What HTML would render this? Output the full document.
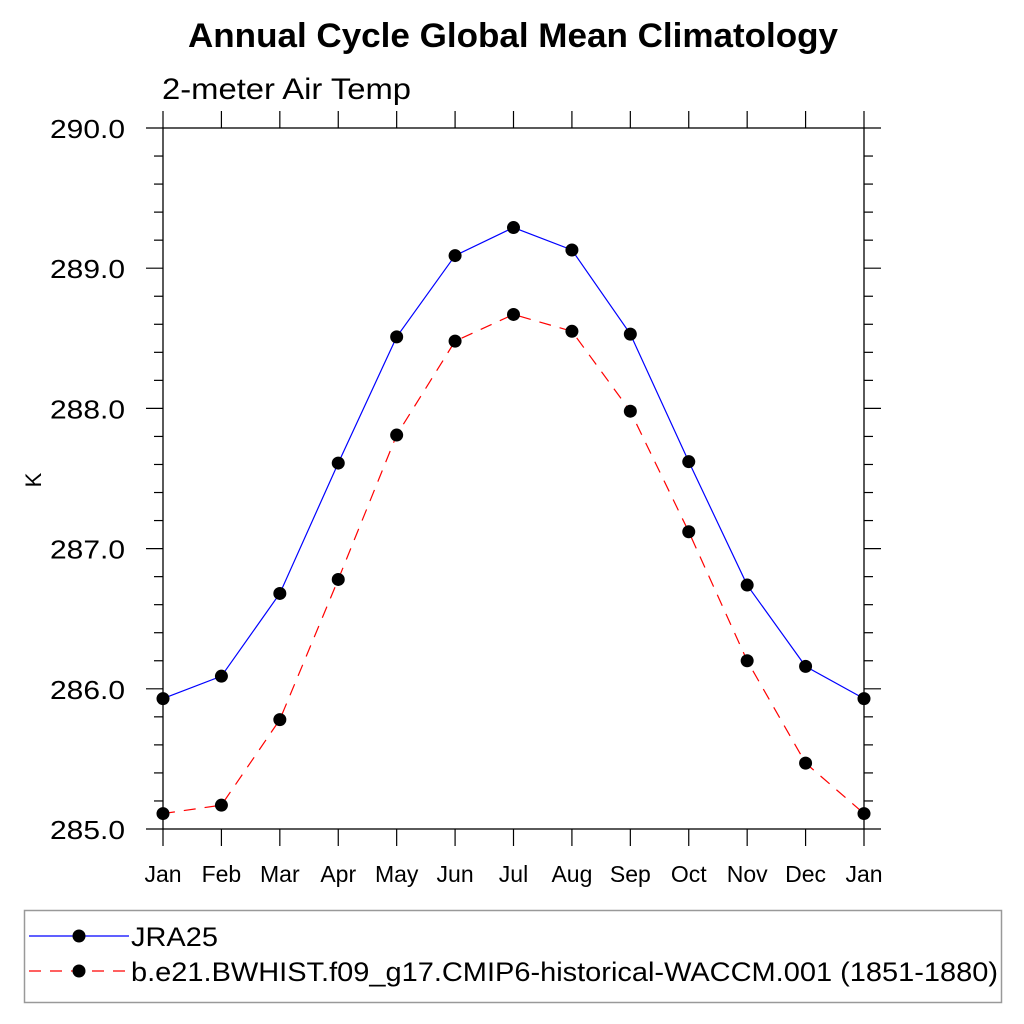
<!DOCTYPE html>
<html><head><meta charset="utf-8"><style>body{margin:0;background:#fff}svg{display:block;font-family:"Liberation Sans",sans-serif}</style></head>
<body>
<svg id="c" width="1024" height="1024">
<text x="188" y="47" font-size="34" font-weight="bold" textLength="650" lengthAdjust="spacingAndGlyphs">Annual Cycle Global Mean Climatology</text>
<text x="162" y="99" font-size="30" textLength="249" lengthAdjust="spacingAndGlyphs">2-meter Air Temp</text>
<text transform="translate(41,480) rotate(-90)" text-anchor="middle" font-size="22">K</text>
<g id="axes"></g>
<g id="series"></g>
<rect x="24.5" y="910.5" width="977" height="92" fill="none" stroke="#999" stroke-width="1.5"/>
<g>
<line x1="29" y1="936" x2="129" y2="936" stroke="#00f" stroke-width="1.2"/>
<circle cx="79" cy="936" r="6.5"/>
<text x="131" y="946" font-size="27" textLength="87" lengthAdjust="spacingAndGlyphs">JRA25</text></g>
<g>
<line x1="29" y1="971" x2="129" y2="971" stroke="#f00" stroke-width="1.2" stroke-dasharray="12,9"/>
<circle cx="79" cy="971" r="6.5"/>
<text x="131" y="981" font-size="27" textLength="867" lengthAdjust="spacingAndGlyphs">b.e21.BWHIST.f09_g17.CMIP6-historical-WACCM.001 (1851-1880)</text></g>
</svg>
<script>
const months=["Jan","Feb","Mar","Apr","May","Jun","Jul","Aug","Sep","Oct","Nov","Dec","Jan"];
const jra=[285.93,286.09,286.68,287.61,288.51,289.09,289.29,289.13,288.53,287.62,286.74,286.16,285.93];
const waccm=[285.11,285.17,285.78,286.78,287.81,288.48,288.67,288.55,287.98,287.12,286.20,285.47,285.11];
const yTicks=[285,286,287,288,289,290];
const yTickLabels=["285.0","286.0","287.0","288.0","289.0","290.0"];
const NS="http://www.w3.org/2000/svg";
const L=163,R=864,T=128,B=829;
const xs=i=>L+(R-L)*i/(months.length-1);
const ys=v=>B-(v-285)/(290-285)*(B-T);
function mk(t,a,p){const e=document.createElementNS(NS,t);for(const k in a)e.setAttribute(k,a[k]);p.appendChild(e);return e;}
const ax=document.getElementById('axes');
const fr=mk('rect',{x:L,y:T,width:R-L,height:B-T,fill:'none',stroke:'#000','stroke-width':1.3},ax);


for(let v=285;v<=290.001;v+=0.2){const y=ys(v);const maj=Math.abs(v-Math.round(v))<0.01;const len=maj?17:9;
mk('line',{x1:L-len,y1:y,x2:L,y2:y,stroke:'#000','stroke-width':1.2},ax);
mk('line',{x1:R,y1:y,x2:R+len,y2:y,stroke:'#000','stroke-width':1.2},ax);}
yTicks.forEach((v,i)=>{const t=mk('text',{x:50,y:ys(v)+10,'font-size':26,textLength:75,lengthAdjust:'spacingAndGlyphs'},ax);t.textContent=yTickLabels[i];

});
months.forEach((m,i)=>{const x=xs(i);
mk('line',{x1:x,y1:B,x2:x,y2:B+17,stroke:'#000','stroke-width':1.2},ax);
mk('line',{x1:x,y1:T,x2:x,y2:T-17,stroke:'#000','stroke-width':1.2},ax);
const t=mk('text',{x:x,y:882,'text-anchor':'middle','font-size':23},ax);t.textContent=m;

});
const sg=document.getElementById('series');
function series(d,col,dash,name){const g=mk('g',{},sg);


mk('polyline',{points:d.map((v,i)=>xs(i)+','+ys(v)).join(' '),fill:'none',stroke:col,'stroke-width':1.2,'stroke-dasharray':dash},g);
d.forEach((v,i)=>{const c=mk('circle',{cx:xs(i),cy:ys(v),r:6.5,fill:'#000'},g);

});}
series(jra,'#00f','none','series-jra25');
series(waccm,'#f00','12,9','series-waccm');
</script>
</body></html>
